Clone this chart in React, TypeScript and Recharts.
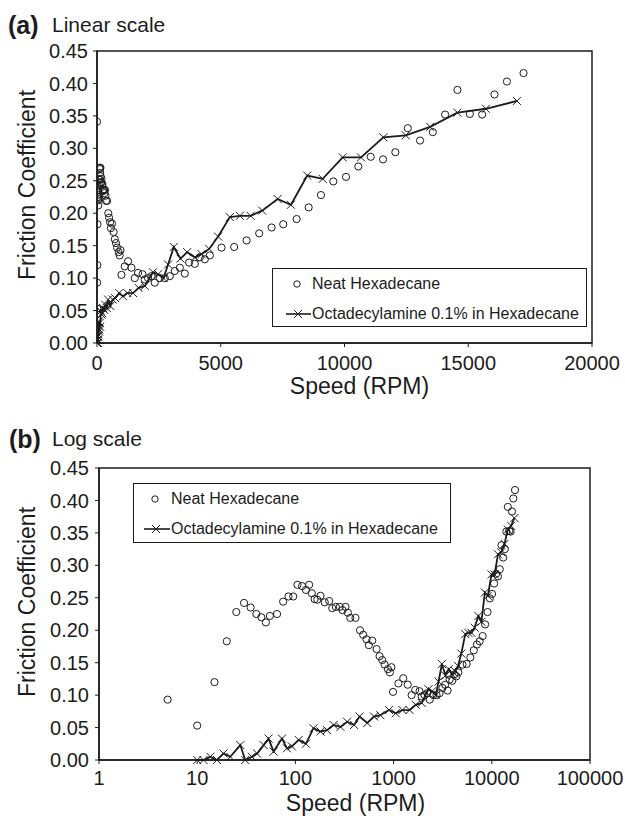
import React from 'react'
import { ScatterChart, Scatter, XAxis, YAxis, ReferenceArea, Legend, Label } from 'recharts'

// Neat hexadecane (open circles)
const neatSpeed = [
  0, 5, 10, 15, 20, 25, 30, 35, 40, 45, 50, 55, 65, 75, 85, 95, 105, 117, 128, 138, 147, 157, 167,
  180, 199, 221, 237, 258, 283, 302, 324, 342, 362, 409, 455, 490, 530, 560, 606, 671, 720, 767,
  810, 875, 917, 950, 987, 1120, 1254, 1392, 1525, 1659, 1837, 1930, 2063, 2201, 2334, 2536, 2739,
  2941, 3143, 3346, 3548, 3722, 3952, 4155, 4357, 4559, 5032, 5542, 6044, 6553, 7055, 7524, 8066,
  8552, 9049, 9547, 10061, 10558, 11060, 11557, 12055, 12557, 13054, 13568, 14066, 14563, 15065,
  15562, 16060, 16562, 17233
]
const neatFriction = [
  0.341, 0.093, 0.053, 0.12, 0.183, 0.228, 0.242, 0.235, 0.225, 0.22, 0.212, 0.222, 0.225, 0.244,
  0.252, 0.252, 0.27, 0.268, 0.262, 0.27, 0.257, 0.248, 0.247, 0.253, 0.243, 0.245, 0.234, 0.236,
  0.236, 0.231, 0.236, 0.227, 0.219, 0.219, 0.2, 0.193, 0.186, 0.177, 0.184, 0.171, 0.16, 0.154,
  0.147, 0.14, 0.135, 0.143, 0.105, 0.118, 0.126, 0.116, 0.1, 0.108, 0.106, 0.098, 0.1, 0.103,
  0.093, 0.1, 0.1, 0.103, 0.111, 0.116, 0.107, 0.124, 0.122, 0.132, 0.129, 0.135, 0.147, 0.148,
  0.158, 0.169, 0.178, 0.183, 0.191, 0.209, 0.228, 0.249, 0.256, 0.272, 0.287, 0.283, 0.294, 0.331,
  0.312, 0.325, 0.352, 0.39, 0.353, 0.352, 0.383, 0.403, 0.416
]

// Octadecylamine 0.1% in hexadecane (crosses + line)
const octaSpeed = [
  10, 11.6, 13.6, 15.9, 18.5, 21.7, 27.5, 30.8, 36, 40.7, 47.5, 53.3, 60, 73, 82, 92, 108, 128, 153,
  180, 210, 245, 288, 336, 396, 450, 539, 632, 733, 898, 1050, 1230, 1456, 1680, 1930, 2265, 2468,
  2690, 2872, 3103, 3374, 3641, 3952, 4223, 4531, 4895, 5368, 5773, 6206, 6675, 7298, 7836, 8495,
  9118, 9927, 10667, 11570, 12476, 13459, 14563, 15712, 16966
]
const octaFriction = [
  0, 0, 0.005, 0, 0.01, 0.005, 0.023, 0, 0.005, 0.01, 0.023, 0.033, 0.013, 0.033, 0.018, 0.021,
  0.031, 0.025, 0.049, 0.044, 0.046, 0.054, 0.051, 0.059, 0.054, 0.067, 0.057, 0.067, 0.069, 0.077,
  0.072, 0.077, 0.077, 0.085, 0.088, 0.109, 0.106, 0.1, 0.121, 0.148, 0.13, 0.14, 0.132, 0.137,
  0.145, 0.164, 0.194, 0.196, 0.196, 0.204, 0.222, 0.213, 0.258, 0.253, 0.286, 0.286, 0.317, 0.32,
  0.333, 0.355, 0.361, 0.373
]

const frictionTicks = [0, 0.05, 0.1, 0.15, 0.2, 0.25, 0.3, 0.35, 0.4, 0.45]
const linearTicks = [0, 5000, 10000, 15000, 20000]
const logTicks = [1, 10, 100, 1000, 10000, 100000]
const seriesNames = ['Neat Hexadecane', 'Octadecylamine 0.1% in Hexadecane']

const neat = neatSpeed.map((x, i) => ({ x, y: neatFriction[i] }))
const octa = octaSpeed.map((x, i) => ({ x, y: octaFriction[i] }))

const INK = '#1c1c1c'
const FONT = '"Liberation Sans", Arial, Helvetica, sans-serif'

const Ring = (props: any) => (
  <circle cx={props.cx} cy={props.cy} r={3.6} fill="none" stroke={INK} strokeWidth={1} />
)

const Ex = (props: any) => {
  const { cx, cy } = props
  const s = 4
  return (
    <path
      d={`M${cx - s},${cy - s}L${cx + s},${cy + s}M${cx - s},${cy + s}L${cx + s},${cy - s}`}
      stroke={INK}
      strokeWidth={1}
      fill="none"
    />
  )
}

const YTitle = ({ viewBox, shift }: any) => {
  const cx = viewBox.x + 27
  const cy = viewBox.y + viewBox.height / 2 + shift
  return (
    <text
      x={cx}
      y={cy}
      transform={`rotate(-90 ${cx} ${cy})`}
      textAnchor="middle"
      dominantBaseline="central"
      fontFamily={FONT}
      fontSize={23}
      fill={INK}
    >
      Friction Coefficient
    </text>
  )
}

const XTitle = ({ viewBox, dx }: any) => (
  <text
    x={viewBox.x + viewBox.width / 2 + dx}
    y={viewBox.y + 43}
    textAnchor="middle"
    dominantBaseline="central"
    fontFamily={FONT}
    fontSize={23}
    fill={INK}
  >
    Speed (RPM)
  </text>
)

// legend box drawn by hand so the markers match the plot
const KeyBox = ({ k }: any) => (
  <div
    style={{
      position: 'relative',
      width: k.w,
      height: k.h,
      boxSizing: 'border-box',
      border: `1.3px solid ${INK}`,
      background: '#fff',
      fontFamily: FONT,
      fontSize: 16,
      lineHeight: '16px',
      color: INK
    }}
  >
    <svg width={k.textX} height={k.h} style={{ position: 'absolute', left: 0, top: 0 }}>
      <circle cx={k.iconX} cy={k.row1} r={3.2} fill="none" stroke={INK} strokeWidth={1} />
      <line x1={k.lineFrom} x2={k.textX - 1} y1={k.row2} y2={k.row2} stroke={INK} strokeWidth={1.6} />
      <Ex cx={k.iconX + 1} cy={k.row2} />
    </svg>
    <div style={{ position: 'absolute', left: k.textX, top: k.row1 - 8, whiteSpace: 'nowrap' }}>
      {seriesNames[0]}
    </div>
    <div style={{ position: 'absolute', left: k.textX, top: k.row2 - 8, whiteSpace: 'nowrap' }}>
      {seriesNames[1]}
    </div>
  </div>
)

const axisLine = { stroke: INK, strokeWidth: 1.5 }
const tickStyle = { fill: INK, fontSize: 20, fontFamily: FONT }

function Panel({ log }: { log: boolean }) {
  const h = log ? 406 : 400
  const yWidth = log ? 99 : 97
  const domain = log ? [1, 100000] : [0, 20000]
  const neatData = log ? neat.filter((d) => d.x > 0) : neat
  const key = log
    ? { left: 133, top: 73, w: 318, h: 60, iconX: 21, lineFrom: 10, textX: 37, row1: 15, row2: 45 }
    : { left: 272, top: 268, w: 315, h: 59, iconX: 24, lineFrom: 13, textX: 39, row1: 15, row2: 45 }
  return (
    <ScatterChart
      width={625}
      height={h}
      margin={{ top: log ? 58 : 51, right: log ? 35 : 33, left: 0, bottom: 0 }}
    >
      <XAxis
        type="number"
        dataKey="x"
        scale={log ? 'log' : 'linear'}
        domain={domain}
        ticks={log ? logTicks : linearTicks}
        interval={0}
        allowDataOverflow
        height={log ? 56 : 57}
        axisLine={axisLine}
        tickLine={{ stroke: INK }}
        tickSize={4}
        tickMargin={log ? 7 : 9}
        tick={tickStyle}
      >
        <Label content={(p: any) => <XTitle {...p} dx={log ? 11 : 15} />} />
      </XAxis>
      <YAxis
        type="number"
        dataKey="y"
        domain={[0, 0.45]}
        ticks={frictionTicks}
        interval={0}
        width={yWidth}
        axisLine={axisLine}
        tickLine={{ stroke: INK }}
        tickSize={4}
        tickMargin={log ? 6 : 5}
        tick={tickStyle}
        tickFormatter={(v: number) => v.toFixed(2)}
      >
        <Label content={(p: any) => <YTitle {...p} shift={-12} />} />
      </YAxis>
      <ReferenceArea
        x1={domain[0]}
        x2={domain[1]}
        y1={0}
        y2={0.45}
        fill="none"
        stroke={INK}
        strokeWidth={1.5}
      />
      <Legend
        layout="vertical"
        align="center"
        verticalAlign="middle"
        wrapperStyle={{ left: key.left, top: key.top, width: key.w, height: key.h }}
        content={() => <KeyBox k={key} />}
      />
      <Scatter
        name={seriesNames[0]}
        data={neatData}
        shape={Ring}
        isAnimationActive={false}
      />
      <Scatter
        name={seriesNames[1]}
        data={octa}
        shape={Ex}
        line={{ stroke: INK, strokeWidth: 1.8 }}
        lineType="joint"
        isAnimationActive={false}
      />
    </ScatterChart>
  )
}

const titleStyle = (top: number, left: number, size: number, bold: boolean): React.CSSProperties => ({
  position: 'absolute',
  top,
  left,
  fontFamily: FONT,
  fontSize: size,
  lineHeight: `${size}px`,
  fontWeight: bold ? 700 : 400,
  color: INK,
  whiteSpace: 'nowrap'
})

export default function App() {
  return (
    <div style={{ position: 'absolute', left: 0, top: 0, width: 625, height: 816, background: '#fff', overflow: 'hidden' }}>
      <div style={{ position: 'absolute', left: 0, top: 0 }}>
        <Panel log={false} />
      </div>
      <div style={{ position: 'absolute', left: 0, top: 410 }}>
        <Panel log />
      </div>
      <div style={titleStyle(13, 8, 25, true)}>(a)</div>
      <div style={titleStyle(14, 52, 21, false)}>Linear scale</div>
      <div style={titleStyle(427, 9, 25, true)}>(b)</div>
      <div style={titleStyle(428, 52, 21, false)}>Log scale</div>
    </div>
  )
}
